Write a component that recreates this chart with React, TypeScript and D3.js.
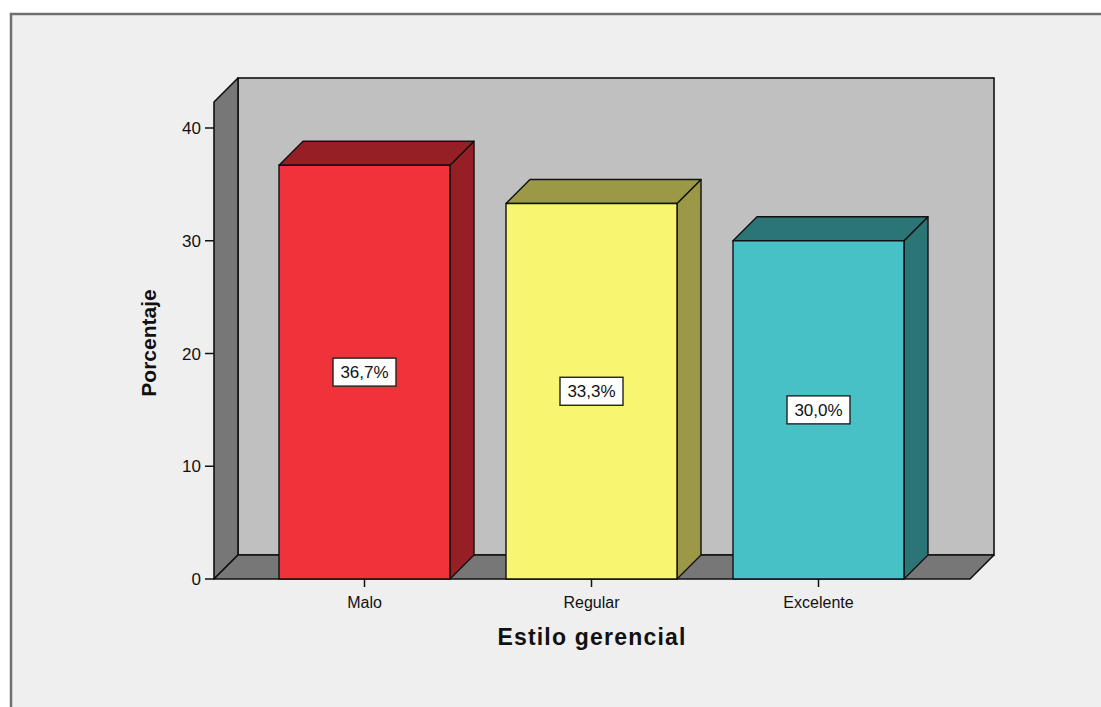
import React from "react";
import * as d3 from "d3";

// Porcentaje por estilo gerencial
const categories: string[] = ["Malo", "Regular", "Excelente"];
const percentages: number[] = [36.7, 33.3, 30.0];
const valueLabels: string[] = ["36,7%", "33,3%", "30,0%"];
const yTicks: number[] = [0, 10, 20, 30, 40];

const frontColors = ["#f0323a", "#f8f570", "#48c1c6"];
const shadeColors = ["#951f24", "#9b9946", "#2c7576"];

const W = 1101;
const H = 707;
const DEPTH = 24; // 3D offset of the back plane
const floorY = 579;
const topY = 128;
const leftX = 214;
const rightX = 970;
const FONT = "Arial, 'Liberation Sans', Helvetica, sans-serif";

export default function App() {
  const y = d3.scaleLinear().domain([0, 40]).range([floorY, topY]);
  const pIn = 56 / 227;
  const x = d3
    .scaleBand<string>()
    .domain(categories)
    .range([251, 932])
    .paddingInner(pIn)
    .paddingOuter(pIn / 2);

  const pts = (p: [number, number][]) => p.map((d) => d.join(",")).join(" ");
  const backTop = y(40) - DEPTH - 26; // wall extends above the 40 tick

  return (
    <svg
      width={W}
      height={H}
      style={{ position: "absolute", left: 0, top: 0, display: "block" }}
    >
      <rect x={0} y={0} width={W} height={H} fill="#ffffff" />
      {/* panel frame */}
      <rect x={11} y={14} width={W + 20} height={H + 20} fill="#efefef" stroke="#6f6f6f" strokeWidth={2.5} />

      {/* back wall */}
      <rect
        x={leftX + DEPTH}
        y={backTop}
        width={rightX - leftX}
        height={floorY - DEPTH - backTop}
        fill="#c0c0c0"
        stroke="#111"
        strokeWidth={1.6}
      />
      {/* left wall */}
      <polygon
        points={pts([
          [leftX, backTop + DEPTH],
          [leftX + DEPTH, backTop],
          [leftX + DEPTH, floorY - DEPTH],
          [leftX, floorY],
        ])}
        fill="#777777"
        stroke="#111"
        strokeWidth={1.6}
        strokeLinejoin="round"
      />
      {/* floor */}
      <polygon
        points={pts([
          [leftX, floorY],
          [leftX + DEPTH, floorY - DEPTH],
          [rightX + DEPTH, floorY - DEPTH],
          [rightX, floorY],
        ])}
        fill="#777777"
        stroke="#111"
        strokeWidth={1.6}
        strokeLinejoin="round"
      />

      {/* bars */}
      {categories.map((c, i) => {
        const x0 = x(c)!;
        const x1 = x0 + x.bandwidth();
        const yt = y(percentages[i]);
        return (
          <g key={c} stroke="#111" strokeWidth={1.4} strokeLinejoin="round">
            <polygon
              points={pts([
                [x1, yt],
                [x1 + DEPTH, yt - DEPTH],
                [x1 + DEPTH, floorY - DEPTH],
                [x1, floorY],
              ])}
              fill={shadeColors[i]}
            />
            <polygon
              points={pts([
                [x0, yt],
                [x0 + DEPTH, yt - DEPTH],
                [x1 + DEPTH, yt - DEPTH],
                [x1, yt],
              ])}
              fill={shadeColors[i]}
            />
            <rect x={x0} y={yt} width={x1 - x0} height={floorY - yt} fill={frontColors[i]} />
          </g>
        );
      })}

      {/* value labels */}
      {categories.map((c, i) => {
        const cx = x(c)! + x.bandwidth() / 2;
        const cy = (y(percentages[i]) + floorY) / 2;
        return (
          <g key={c + "-lab"}>
            <rect x={cx - 31.5} y={cy - 14} width={63} height={28} fill="#ffffff" stroke="#222" strokeWidth={1.4} />
            <text x={cx} y={cy + 6} textAnchor="middle" fontFamily={FONT} fontSize={17} fill="#111">
              {valueLabels[i]}
            </text>
          </g>
        );
      })}

      {/* y axis ticks */}
      {yTicks.map((t) => (
        <g key={t}>
          <line x1={leftX - 9} x2={leftX} y1={y(t)} y2={y(t)} stroke="#111" strokeWidth={1.5} />
          <text x={leftX - 13} y={y(t) + 6} textAnchor="end" fontFamily={FONT} fontSize={17} fill="#111">
            {t}
          </text>
        </g>
      ))}

      {/* x axis ticks and labels */}
      {categories.map((c) => {
        const cx = x(c)! + x.bandwidth() / 2;
        return (
          <g key={c + "-tick"}>
            <line x1={cx} x2={cx} y1={floorY} y2={floorY + 8} stroke="#111" strokeWidth={1.5} />
            <text x={cx} y={608} textAnchor="middle" fontFamily={FONT} fontSize={16} fill="#111">
              {c}
            </text>
          </g>
        );
      })}

      {/* axis titles */}
      <text
        transform={`translate(156,343) rotate(-90)`}
        textAnchor="middle"
        fontFamily={FONT}
        fontWeight="bold"
        fontSize={21}
        fill="#111"
      >
        Porcentaje
      </text>
      <text x={592} y={645} textAnchor="middle" fontFamily={FONT} fontWeight="bold" fontSize={23} letterSpacing={1.2} fill="#111">
        Estilo gerencial
      </text>
    </svg>
  );
}
